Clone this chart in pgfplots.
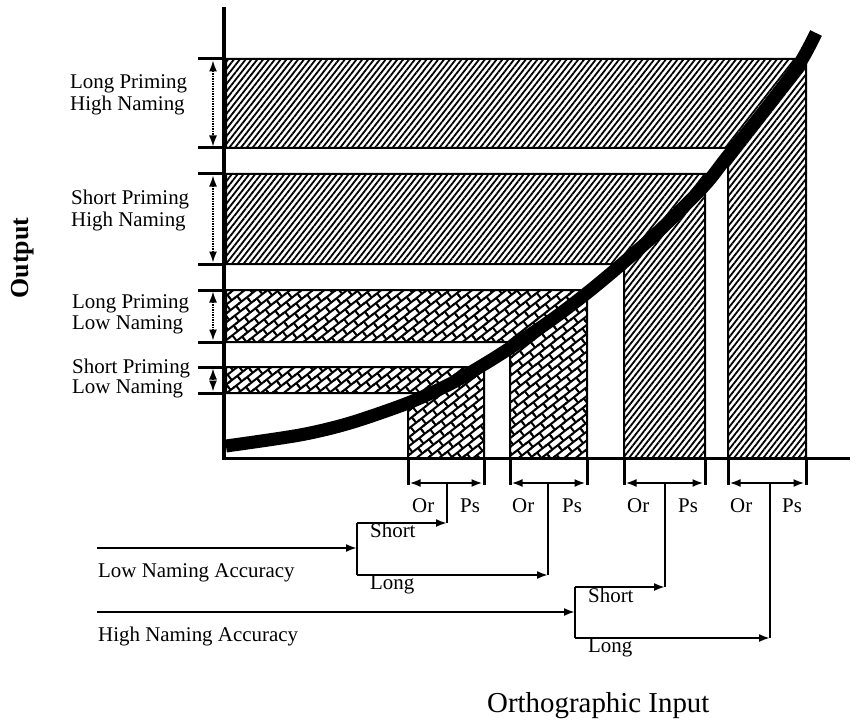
\documentclass[border=0pt]{standalone}
\usepackage{pgfplots}
\pgfplotsset{compat=1.18}
\usepackage{fontspec}
\setmainfont{Liberation Serif}
\usetikzlibrary{patterns.meta,arrows.meta}

\tikzdeclarepattern{
  name=slantbricks,
  type=uncolored,
  bounding box={(-1bp,-1bp) and (15bp,15bp)},
  tile size={(14bp,14bp)},
  tile transformation={rotate=38},
  code={
    \draw[line width=2bp] (-1bp,3bp) -- (15bp,3bp);
    \draw[line width=2bp] (-1bp,10bp) -- (15bp,10bp);
    \draw[line width=2bp] (3bp,3bp) -- (3bp,10bp);
    \draw[line width=2bp] (10bp,10bp) -- (10bp,15bp);
    \draw[line width=2bp] (10bp,-1bp) -- (10bp,3bp);
  }
}
\newcommand{\lab}{\fontsize{21}{21}\selectfont}
\tikzset{
  hatch/.style={draw=black, line width=2bp, pattern={Lines[angle=52,distance=4.6bp,line width=1.8bp]}},
  brick/.style={draw=black, line width=2bp, pattern=slantbricks},
  arr/.style={line width=2bp, -{Latex[length=11bp,width=8bp]}},
  darr/.style={line width=2bp, {Latex[length=11bp,width=8bp]}-{Latex[length=11bp,width=8bp]}},
  dimarr/.style={line width=1.5bp, densely dotted, {Latex[length=11bp,width=8bp]}-{Latex[length=11bp,width=8bp]}},
}

\begin{document}
\begin{tikzpicture}
\begin{axis}[
  scale only axis, width=865bp, height=725bp,
  xmin=0, xmax=865, ymin=0, ymax=725, y dir=reverse,
  hide axis, clip=false,
]
% invisible frame so the picture spans the whole canvas
\addplot[draw=none] coordinates {(0,0)(865,725)};
% horizontal bands (left of curve)
\addplot[hatch] coordinates {(226,59)(803,59)(798,66)(760,116)(734,148)(226,148)} -- cycle;
\addplot[hatch] coordinates {(226,174)(714,174)(704,186)(660,230)(623,264)(226,264)} -- cycle;
\addplot[brick] coordinates {(226,290)(589,290)(587,293)(550,321)(520,342)(226,342)} -- cycle;
\addplot[brick] coordinates {(226,367)(478,367)(450,383)(429,393)(226,393)} -- cycle;
% vertical bars (below curve)
\addplot[brick] coordinates {(408,458)(408,403)(450,383)(484,364)(484,458)} -- cycle;
\addplot[brick] coordinates {(510,458)(510,348)(550,321)(587,293)(587,458)} -- cycle;
\addplot[hatch] coordinates {(624,458)(624,262)(660,230)(705,185)(705,458)} -- cycle;
\addplot[hatch] coordinates {(728,458)(728,156)(760,116)(798,66)(806,53)(806,458)} -- cycle;
% curve
\addplot[line width=13bp, smooth] coordinates {(226,446)(300,435)(350,423)(408,403)(450,384)(483,365)(510,348)(550,321)(587,293)(623,263)(660,230)(704,186)(727,157)(760,116)(798,66)(816,33)};
% axes
\addplot[line width=4bp] coordinates {(224,7)(224,460)};
\addplot[line width=3bp] coordinates {(222,458)(850,458)};
% y ticks
\addplot[line width=3bp] coordinates {(198,59)(226,59)};
\addplot[line width=3bp] coordinates {(198,148)(226,148)};
\addplot[line width=3bp] coordinates {(198,174)(226,174)};
\addplot[line width=3bp] coordinates {(198,264)(226,264)};
\addplot[line width=3bp] coordinates {(198,290)(226,290)};
\addplot[line width=3bp] coordinates {(198,342)(226,342)};
\addplot[line width=3bp] coordinates {(198,367)(226,367)};
\addplot[line width=3bp] coordinates {(198,393)(226,393)};
% dimension arrows
\addplot[dimarr] coordinates {(213,60.5)(213,146.5)};
\addplot[dimarr] coordinates {(213,175.5)(213,262.5)};
\addplot[dimarr] coordinates {(213,291.5)(213,340.5)};
\addplot[dimarr] coordinates {(213,368.5)(213,391.5)};
% brackets under bars
\addplot[line width=3bp] coordinates {(408,458)(408,485)};
\addplot[line width=3bp] coordinates {(484,458)(484,485)};
\addplot[line width=3bp] coordinates {(510,458)(510,485)};
\addplot[line width=3bp] coordinates {(587,458)(587,485)};
\addplot[line width=3bp] coordinates {(624,458)(624,485)};
\addplot[line width=3bp] coordinates {(705,458)(705,485)};
\addplot[line width=3bp] coordinates {(728,458)(728,485)};
\addplot[line width=3bp] coordinates {(806,458)(806,485)};
\addplot[darr] coordinates {(409.5,483)(482.5,483)};
\addplot[darr] coordinates {(511.5,483)(585.5,483)};
\addplot[darr] coordinates {(625.5,483)(703.5,483)};
\addplot[darr] coordinates {(729.5,483)(804.5,483)};
% flow lines
\addplot[line width=2bp] coordinates {(447,483)(447,523)};
\addplot[line width=2bp] coordinates {(548,483)(548,575)};
\addplot[line width=2bp] coordinates {(665,483)(665,587)};
\addplot[line width=2bp] coordinates {(770,483)(770,638)};
\addplot[line width=2bp] coordinates {(357,523)(357,575)};
\addplot[line width=2bp] coordinates {(575,587)(575,638)};
\addplot[arr] coordinates {(357,523)(447,523)};
\addplot[arr] coordinates {(357,575)(548,575)};
\addplot[arr] coordinates {(575,587)(665,587)};
\addplot[arr] coordinates {(575,638)(770,638)};
\addplot[arr] coordinates {(97,548)(357,548)};
\addplot[arr] coordinates {(97,612)(575,612)};
% labels
\node[anchor=base west, font=\lab, inner sep=0pt] at (axis cs:70,89) {Long Priming};
\node[anchor=base west, font=\lab, inner sep=0pt] at (axis cs:70,110.5) {High Naming};
\node[anchor=base west, font=\lab, inner sep=0pt] at (axis cs:71,205) {Short Priming};
\node[anchor=base west, font=\lab, inner sep=0pt] at (axis cs:71,226.5) {High Naming};
\node[anchor=base west, font=\lab, inner sep=0pt] at (axis cs:72,308) {Long Priming};
\node[anchor=base west, font=\lab, inner sep=0pt] at (axis cs:72,329.5) {Low Naming};
\node[anchor=base west, font=\lab, inner sep=0pt] at (axis cs:72,373) {Short Priming};
\node[anchor=base west, font=\lab, inner sep=0pt] at (axis cs:72,393.5) {Low Naming};
\node[rotate=90, font=\fontsize{26}{26}\selectfont\bfseries, inner sep=0pt] at (axis cs:23,258) {Output};
\node[anchor=base west, font=\lab, inner sep=0pt] at (axis cs:412,512) {Or};
\node[anchor=base west, font=\lab, inner sep=0pt] at (axis cs:460,512) {Ps};
\node[anchor=base west, font=\lab, inner sep=0pt] at (axis cs:512,512) {Or};
\node[anchor=base west, font=\lab, inner sep=0pt] at (axis cs:562,512) {Ps};
\node[anchor=base west, font=\lab, inner sep=0pt] at (axis cs:627,512) {Or};
\node[anchor=base west, font=\lab, inner sep=0pt] at (axis cs:678,512) {Ps};
\node[anchor=base west, font=\lab, inner sep=0pt] at (axis cs:730,512) {Or};
\node[anchor=base west, font=\lab, inner sep=0pt] at (axis cs:782,512) {Ps};
\node[anchor=base west, font=\lab, inner sep=0pt] at (axis cs:370,537) {Short};
\node[anchor=base west, font=\lab, inner sep=0pt] at (axis cs:370,589) {Long};
\node[anchor=base west, font=\lab, inner sep=0pt] at (axis cs:588,602) {Short};
\node[anchor=base west, font=\lab, inner sep=0pt] at (axis cs:588,652) {Long};
\node[anchor=base west, font=\lab, inner sep=0pt] at (axis cs:98,577) {Low Naming Accuracy};
\node[anchor=base west, font=\lab, inner sep=0pt] at (axis cs:98,641) {High Naming Accuracy};
\node[anchor=base west, font=\fontsize{29}{29}\selectfont, inner sep=0pt] at (axis cs:487,712) {Orthographic Input};
\end{axis}
\end{tikzpicture}
\end{document}
